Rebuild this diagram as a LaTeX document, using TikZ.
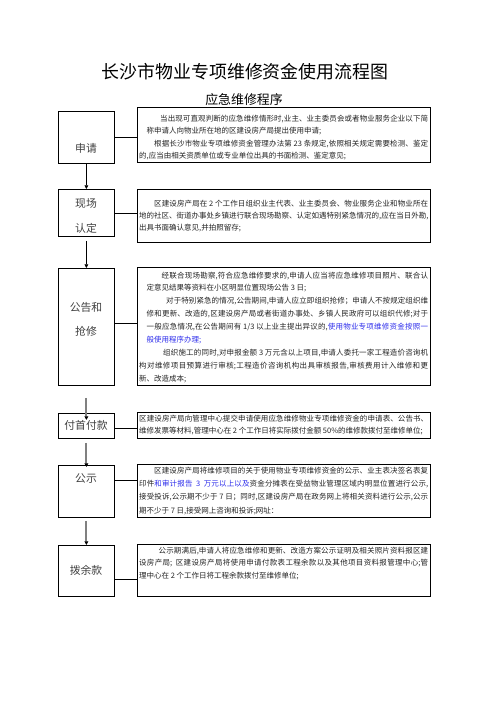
\documentclass[tikz,border=0pt]{standalone}
\usepackage{fontspec}
\usepackage{xcolor}
\usetikzlibrary{arrows.meta}

\newfontfamily\cjk{Noto Sans CJK SC}
\XeTeXlinebreaklocale "zh"
\XeTeXlinebreakskip=0pt plus 2pt
\XeTeXlinebreakpenalty=10000

\definecolor{noteblue}{RGB}{45,45,235}
\definecolor{notegray}{RGB}{35,35,35}

\tikzset{
  stagebox/.style={draw, line width=0.9pt, inner sep=0pt, anchor=north west, minimum width=67.2pt},
  notebox/.style={draw, line width=0.9pt, inner sep=0pt, anchor=north west, minimum width=351.6pt},
  notetext/.style={inner sep=0pt, anchor=base west, text width=346.8pt, align=justify,
    text=notegray, font=\cjk\fontsize{9}{15}\selectfont},
  stagetext/.style={inner sep=0pt, align=center, text=black!75, font=\cjk\fontsize{13}{30}\selectfont},
  link/.style={line width=0.9pt},
  stepline/.style={line width=0.8pt, -{Triangle[width=4.5pt,length=4.5pt]}},
  grayline/.style={line width=2.2pt, black!50, -{Triangle[color=black,width=4.5pt,length=4.5pt]}},
}

\begin{document}
\begin{tikzpicture}[x=1.2pt,y=-1.2pt]
  \useasboundingbox (0,0) rectangle (496,702);

  % title
  \node[font=\cjk\fontsize{21.5}{26}\selectfont] (title) at (245,72) {长沙市物业专项维修资金使用流程图};
  \node[font=\cjk\fontsize{15.5}{19}\selectfont] (subtitle) at (244,100) {应急维修程序};

  % stages on the left
  \node[stagebox, minimum height=62.4pt] (l1) at (58,111) {};
  \node[stagebox, minimum height=56.4pt] (l2) at (58,189) {};
  \node[stagebox, minimum height=140.4pt] (l3) at (58,268) {};
  \node[stagebox, minimum height=30pt] (l4) at (58,413) {};
  \node[stagebox, minimum height=62.4pt] (l5) at (58,465) {};
  \node[stagebox, minimum height=61.2pt] (l6) at (58,545) {};

  \node[stagetext] (s1) at (86,148) {申请};
  \node[stagetext] (s2) at (86,215.5) {现场\\认定};
  \node[stagetext, font=\cjk\fontsize{13}{28.8}\selectfont] (s3) at (86,319) {公告和\\抢修};
  \node[stagetext] (s4) at (86,425) {付首付款};
  \node[stagetext] (s5) at (86,478) {公示};
  \node[stagetext] (s6) at (86,570) {拨余款};

  % notes on the right
  \node[notebox, minimum height=66pt] (r1) at (137,107) {};
  \node[notebox, minimum height=63.6pt] (r2) at (137,189) {};
  \node[notebox, minimum height=141.6pt] (r3) at (137,267) {};
  \node[notebox, minimum height=31.2pt] (r4) at (137,412) {};
  \node[notebox, minimum height=63.6pt] (r5) at (137,464) {};
  \node[notebox, minimum height=62.4pt] (r6) at (137,544) {};

  \node[notetext] (t1) at (139,121) {\hspace*{2.8em}当出现可直观判断的应急维修情形时,业主、业主委员会或者物业服务企业以下简\linebreak
\hspace*{1em}称申请人向物业所在地的区建设房产局提出使用申请;\par
\hspace*{2em}根据长沙市物业专项维修资金管理办法第~23~条规定,依照相关规定需要检测、鉴定\linebreak
的,应当由相关资质单位或专业单位出具的书面检测、鉴定意见;};

  \node[notetext, font=\cjk\fontsize{9}{14.4}\selectfont] (t2) at (139,206) {\hspace*{2em}区建设房产局在~2~个工作日组织业主代表、业主委员会、物业服务企业和物业所在\linebreak
地的社区、街道办事处乡镇进行联合现场勘察、认定如遇特别紧急情况的,应在当日外勘,\linebreak
出具书面确认意见,并拍照留存;};

  \node[notetext, font=\cjk\fontsize{9}{15.5}\selectfont] (t3) at (139,278) {\hspace*{3em}经联合现场勘察,符合应急维修要求的,申请人应当将应急维修项目照片、联合认\linebreak
\hspace*{1em}定意见结果等资料在小区明显位置现场公告~3~日;\par
\hspace*{3.6em}对于特别紧急的情况,公告期间,申请人应立即组织抢修；申请人不按规定组织维\linebreak
\hspace*{1em}修和更新、改造的,区建设房产局或者街道办事处、乡镇人民政府可以组织代修;对于\linebreak
\hspace*{1em}一般应急情况,在公告期间有~1/3~以上业主提出异议的,\textcolor{noteblue}{使用物业专项维修资金按照一\linebreak
\hspace*{1em}般使用程序办理;}\par
\hspace*{3.2em}组织施工的同时,对申报金额~3~万元含以上项目,申请人委托一家工程造价咨询机\linebreak
构对维修项目预算进行审核;工程造价咨询机构出具审核报告,审核费用计入维修和更\linebreak
新、改造成本;};

  \node[notetext, font=\cjk\fontsize{9}{14.4}\selectfont] (t4) at (139,421) {区建设房产局向管理中心提交申请使用应急维修物业专项维修资金的申请表、公告书、\linebreak
维修发票等材料,管理中心在~2~个工作日将实际拨付金额~50\%的维修款拨付至维修单位;};

  \node[notetext, font=\cjk\fontsize{9}{16}\selectfont] (t5) at (139,473) {\hspace*{2em}区建设房产局将维修项目的关于使用物业专项维修资金的公示、业主表决签名表复\linebreak
印件\textcolor{noteblue}{和审计报告~~3~~万元以上以及}资金分摊表在受益物业管理区域内明显位置进行公示,\linebreak
接受投诉,公示期不少于~7~日；同时,区建设房产局在政务网上将相关资料进行公示,公示\linebreak
期不少于~7~日,接受网上咨询和投诉;网址：};

  \node[notetext] (t6) at (139,553) {\hspace*{2.6em}公示期满后,申请人将应急维修和更新、改造方案公示证明及相关照片资料报区建\linebreak
设房产局;~~区建设房产局将使用申请付款表工程余款以及其他项目资料报管理中心;管\linebreak
理中心在~2~个工作日将工程余款拨付至维修单位;};

  % links between stage and note
  \coordinate (j3) at ([yshift=4.2pt]l3.east);
  \coordinate (j4) at ([yshift=-3pt]l4.east);
  \coordinate (j5) at ([yshift=13.2pt]l5.east);
  \coordinate (j6) at ([yshift=-10.2pt]l6.east);
  \draw[link] (l1.east) -- (l1.east -| r1.west);
  \draw[link] (l2.east) -- (l2.east -| r2.west);
  \draw[link] (j3) -- (j3 -| r3.west);
  \draw[link] (j4) -- (j4 -| r4.west);
  \draw[link] (j5) -- (j5 -| r5.west);
  \draw[link] (j6) -- (j6 -| r6.west);

  % flow arrows
  \draw[stepline] (l1.south) -- (l2.north);
  \draw[stepline] ([yshift=-4.8pt]l2.south) -- (l3.north);
  \draw[grayline] ([yshift=-14.4pt]l3.south) -- ([yshift=-8.4pt]l4.north);
  \draw[grayline] ([yshift=-4.8pt]l4.south) -- ([yshift=-2.4pt]l5.north);
  \draw[grayline] ([yshift=-3.6pt]l5.south) -- (l6.north);
\end{tikzpicture}
\end{document}
